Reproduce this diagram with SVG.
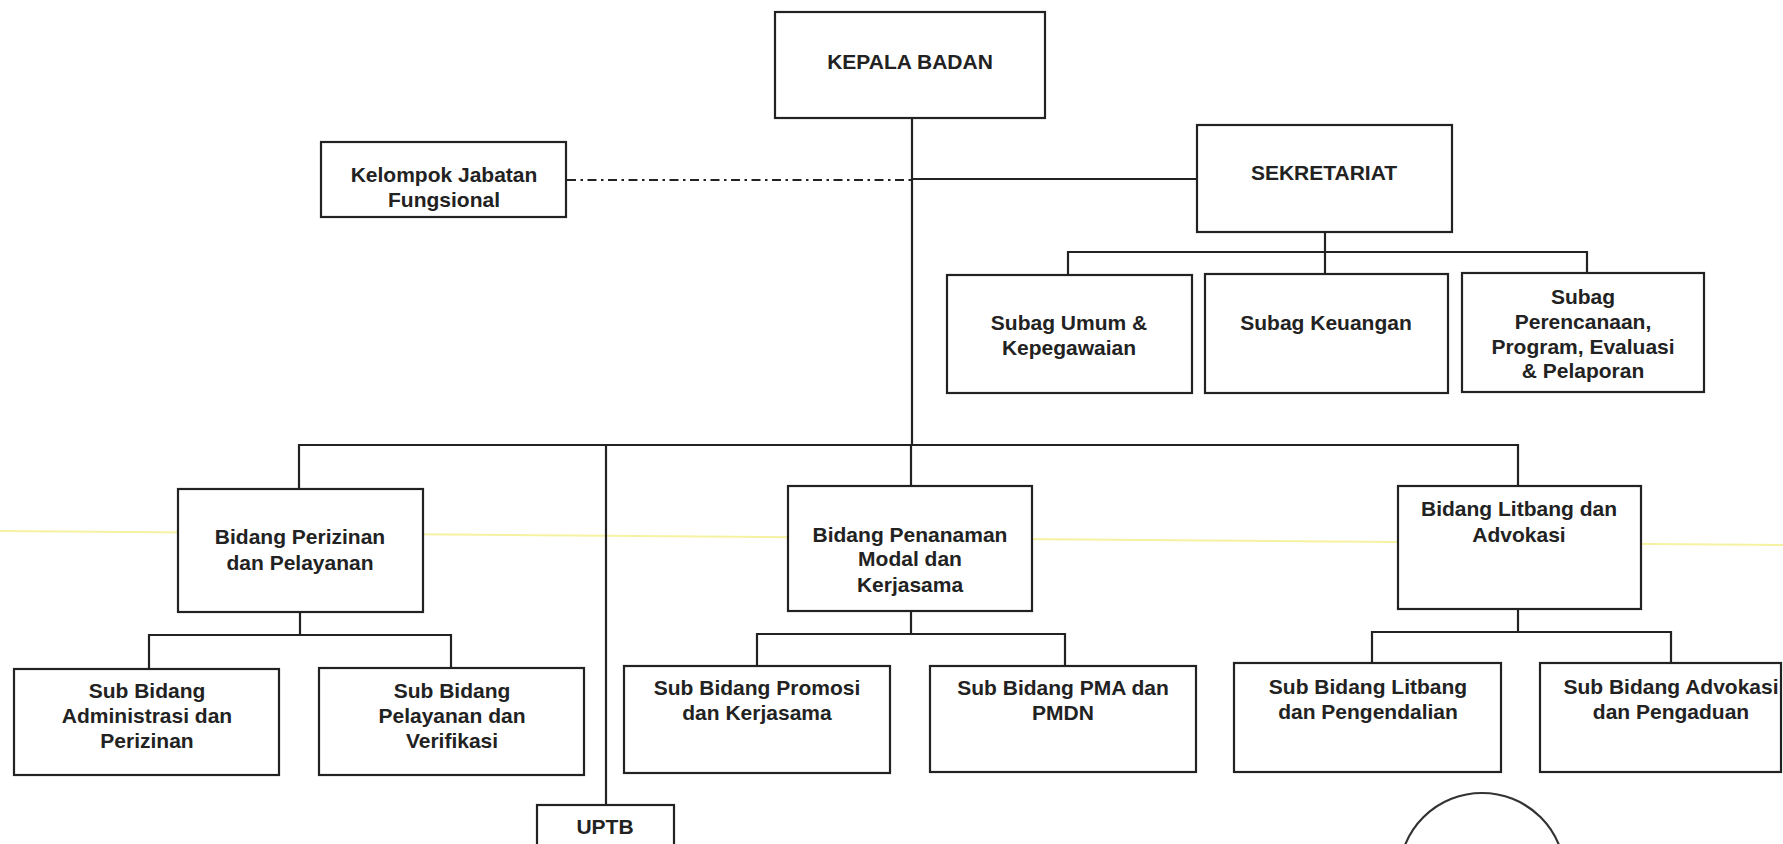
<svg xmlns="http://www.w3.org/2000/svg" width="1783" height="844" viewBox="0 0 1783 844">
<style>
.box{fill:#fff;stroke:#222;stroke-width:2.2}
.ln{fill:none;stroke:#222;stroke-width:2.2}
.dd{fill:none;stroke:#222;stroke-width:1.8;stroke-dasharray:9 4.5 2.5 4.5}
text{font-family:"Liberation Sans",Arial,sans-serif;font-size:21px;font-weight:bold;fill:#222;text-anchor:middle}
</style>
<rect width="1783" height="844" fill="#fff"/>
<line x1="0" y1="531" x2="1783" y2="545" stroke="#f6f08a" stroke-width="2" opacity="0.8"/>
<g id="connectors">
<line class="ln" x1="912" y1="118" x2="912" y2="445"/>
<line class="dd" x1="567" y1="180" x2="912" y2="180"/>
<line class="ln" x1="912" y1="179" x2="1197" y2="179"/>
<line class="ln" x1="1325" y1="232" x2="1325" y2="274"/>
<polyline class="ln" points="1068,275 1068,252 1587,252 1587,273"/>
<polyline class="ln" points="299,489 299,445 1518,445 1518,486"/>
<line class="ln" x1="606" y1="445" x2="606" y2="805"/>
<line class="ln" x1="911" y1="445" x2="911" y2="486"/>
<line class="ln" x1="300" y1="612" x2="300" y2="635"/>
<polyline class="ln" points="149,669 149,635 451,635 451,668"/>
<line class="ln" x1="911" y1="611" x2="911" y2="634"/>
<polyline class="ln" points="757,666 757,634 1065,634 1065,666"/>
<line class="ln" x1="1518" y1="609" x2="1518" y2="632"/>
<polyline class="ln" points="1372,663 1372,632 1671,632 1671,663"/>
</g>
<g id="kepala"><rect class="box" x="775" y="12" width="270" height="106"/><text x="910" y="69">KEPALA BADAN</text></g>
<g id="kelompok"><rect class="box" x="321" y="142" width="245" height="75"/><text x="444" y="182">Kelompok Jabatan</text><text x="444" y="207">Fungsional</text></g>
<g id="sekretariat"><rect class="box" x="1197" y="125" width="255" height="107"/><text x="1324" y="180">SEKRETARIAT</text></g>
<g id="subag-umum"><rect class="box" x="947" y="275" width="245" height="118"/><text x="1069" y="330">Subag Umum &amp;</text><text x="1069" y="355">Kepegawaian</text></g>
<g id="subag-keuangan"><rect class="box" x="1205" y="274" width="243" height="119"/><text x="1326" y="330">Subag Keuangan</text></g>
<g id="subag-perencanaan"><rect class="box" x="1462" y="273" width="242" height="119"/><text x="1583" y="304">Subag</text><text x="1583" y="329">Perencanaan,</text><text x="1583" y="354">Program, Evaluasi</text><text x="1583" y="378">&amp; Pelaporan</text></g>
<g id="bidang-perizinan"><rect class="box" x="178" y="489" width="245" height="123"/><text x="300" y="544">Bidang Perizinan</text><text x="300" y="570">dan Pelayanan</text></g>
<g id="bidang-penanaman"><rect class="box" x="788" y="486" width="244" height="125"/><text x="910" y="542">Bidang Penanaman</text><text x="910" y="566">Modal dan</text><text x="910" y="592">Kerjasama</text></g>
<g id="bidang-litbang"><rect class="box" x="1398" y="486" width="243" height="123"/><text x="1519" y="516">Bidang Litbang dan</text><text x="1519" y="542">Advokasi</text></g>
<g id="sub-administrasi"><rect class="box" x="14" y="669" width="265" height="106"/><text x="147" y="698">Sub Bidang</text><text x="147" y="723">Administrasi dan</text><text x="147" y="748">Perizinan</text></g>
<g id="sub-pelayanan"><rect class="box" x="319" y="668" width="265" height="107"/><text x="452" y="698">Sub Bidang</text><text x="452" y="723">Pelayanan dan</text><text x="452" y="748">Verifikasi</text></g>
<g id="sub-promosi"><rect class="box" x="624" y="666" width="266" height="107"/><text x="757" y="695">Sub Bidang Promosi</text><text x="757" y="720">dan Kerjasama</text></g>
<g id="sub-pma"><rect class="box" x="930" y="666" width="266" height="106"/><text x="1063" y="695">Sub Bidang PMA dan</text><text x="1063" y="720">PMDN</text></g>
<g id="sub-litbang"><rect class="box" x="1234" y="663" width="267" height="109"/><text x="1368" y="694">Sub Bidang Litbang</text><text x="1368" y="719">dan Pengendalian</text></g>
<g id="sub-advokasi"><rect class="box" x="1540" y="663" width="241" height="109"/><text x="1671" y="694">Sub Bidang Advokasi</text><text x="1671" y="719">dan Pengaduan</text></g>
<g id="uptb"><rect class="box" x="537" y="805" width="137" height="60"/><text x="605" y="834">UPTB</text></g>
<circle cx="1482" cy="876" r="83" fill="none" stroke="#333" stroke-width="2.2"/>
</svg>
